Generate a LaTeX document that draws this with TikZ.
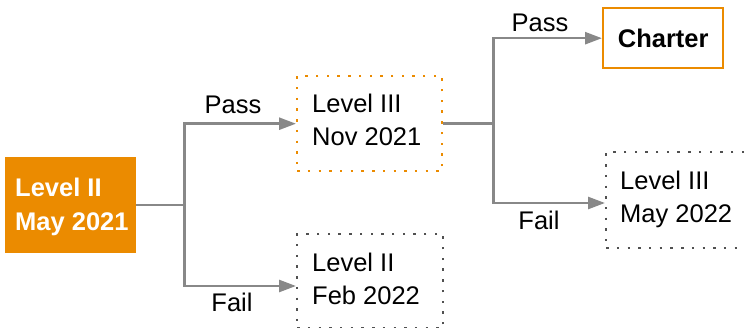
\documentclass[tikz,border=0pt]{standalone}
\usepackage{fontspec}
\setmainfont{Liberation Sans}
\usetikzlibrary{arrows.meta,calc}
\definecolor{orng}{RGB}{235,139,0}
\definecolor{conncol}{RGB}{136,136,136}
\definecolor{dotgray}{RGB}{80,80,80}
\tikzset{
  conn/.style={draw=conncol, line width=2.6pt},
  arr/.style={conn, -{Triangle[length=17pt,width=12pt]}},
  boxbase/.style={inner sep=0pt, anchor=north west},
  dotbox/.style={boxbase, line width=2.4pt, dash pattern=on 2.4pt off 8.3pt},
  orangedot/.style={dotbox, draw=orng},
  graydot/.style={dotbox, draw=dotgray},
  txt/.style={inner sep=0pt, anchor=base west, font=\fontsize{25.5}{33}\selectfont},
  lbl/.style={inner sep=0pt, anchor=base, font=\fontsize{25.5}{33}\selectfont},
}
\begin{document}
\begin{tikzpicture}[x=1pt,y=-1pt]
\useasboundingbox (0,0) rectangle (745,328);
\clip (0,0) rectangle (745,328);
% boxes
\node[boxbase, fill=orng, minimum width=131pt, minimum height=96pt] (a) at (5,157) {};
\node[orangedot, minimum width=145pt, minimum height=95pt] (b) at (296,75) {};
\node[graydot, minimum width=146pt, minimum height=94pt] (c) at (296,233) {};
\node[boxbase, draw=orng, line width=2.4pt, minimum width=120pt, minimum height=60pt] (d) at (602,7) {};
\node[graydot, minimum width=160pt, minimum height=96pt] (e) at (605,151) {};
% texts
\node[txt, text=white, font=\fontsize{25.5}{33}\selectfont\bfseries] (a1) at (15,197) {Level II};
\node[txt, text=white, font=\fontsize{25.5}{33}\selectfont\bfseries] (a2) at (15,231) {May 2021};
\node[txt] (b1) at (312,113) {Level III};
\node[txt] (b2) at (312,146) {Nov 2021};
\node[txt] (c1) at (312,272) {Level II};
\node[txt] (c2) at (312,305) {Feb 2022};
\node[inner sep=0pt, font=\fontsize{25.5}{33}\selectfont\bfseries] (d1) at (d.center) {Charter};
\node[txt] (e1) at (620,190) {Level III};
\node[txt] (e2) at (620,223) {May 2022};
% connectors
\coordinate (j1) at ($(a.east)+(48,0)$);
\coordinate (cin) at (296,286);
\coordinate (j2) at ($(b.east)+(50,0)$);
\coordinate (ein) at (605,203);
\draw[conn] (a.east) -- (j1);
\draw[arr] (j1) |- (b.west);
\draw[arr] (j1) |- (cin);
\draw[conn] (b.east) -- (j2);
\draw[arr] (j2) |- (d.west);
\draw[arr] (j2) |- (ein);
% labels
\node[lbl] (p1) at (233,114) {Pass};
\node[lbl] (f1) at (232,312) {Fail};
\node[lbl] (p2) at (540,32) {Pass};
\node[lbl] (f2) at (539,230) {Fail};
\end{tikzpicture}
\end{document}
